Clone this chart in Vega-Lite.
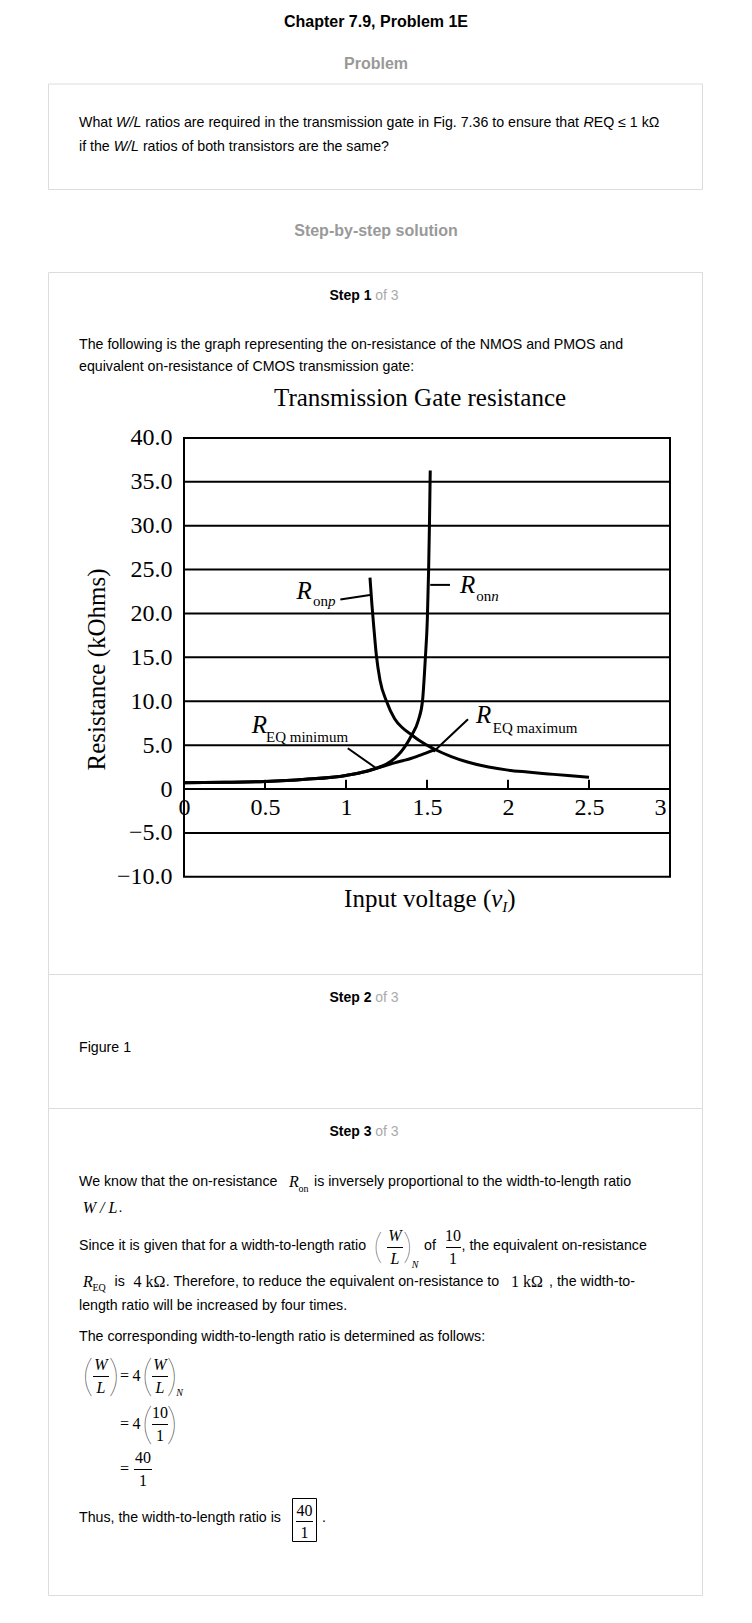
{
  "$schema": "https://vega.github.io/schema/vega-lite/v6.json",
  "width": 752,
  "height": 1623,
  "autosize": {"type": "none"},
  "padding": 0,
  "background": "#ffffff",
  "config": {"view": {"stroke": null}},
  "datasets": {
    "boxes": [
      {"x": 48.5, "x2": 702.5, "y": 84, "y2": 189.5},
      {"x": 48.5, "x2": 702.5, "y": 272.5, "y2": 974.5},
      {"x": 48.5, "x2": 702.5, "y": 974.5, "y2": 1108.5},
      {"x": 48.5, "x2": 702.5, "y": 1108.5, "y2": 1595.5}
    ],
    "ansbox": [{"x": 292.5, "x2": 316.5, "y": 1498.5, "y2": 1541.5}],
    "hdr": [{"x": 376, "y": 22, "t": "Chapter 7.9, Problem 1E"}],
    "grayhdr": [
      {"x": 376, "y": 64, "t": "Problem"},
      {"x": 376, "y": 230.5, "t": "Step-by-step solution"}
    ],
    "stepb": [
      {"x": 329.5, "y": 296, "t": "Step 1"},
      {"x": 329.5, "y": 998, "t": "Step 2"},
      {"x": 329.5, "y": 1132, "t": "Step 3"}
    ],
    "stepg": [
      {"x": 375.3, "y": 296, "t": "of 3"},
      {"x": 375.3, "y": 998, "t": "of 3"},
      {"x": 375.3, "y": 1132, "t": "of 3"}
    ],
    "body": [
      {"x": 79, "y": 123, "t": "What"},
      {"x": 145.3, "y": 123, "t": "ratios are required in the transmission gate in Fig. 7.36 to ensure that"},
      {"x": 593.7, "y": 123, "t": "EQ ≤ 1 kΩ"},
      {"x": 79, "y": 147, "t": "if the"},
      {"x": 142.9, "y": 147, "t": "ratios of both transistors are the same?"},
      {"x": 79, "y": 344.5, "t": "The following is the graph representing the on-resistance of the NMOS and PMOS and"},
      {"x": 79, "y": 367, "t": "equivalent on-resistance of CMOS transmission gate:"},
      {"x": 79, "y": 1048, "t": "Figure 1"},
      {"x": 79, "y": 1181.5, "t": "We know that the on-resistance"},
      {"x": 314, "y": 1181.5, "t": "is inversely proportional to the width-to-length ratio"},
      {"x": 118.5, "y": 1208, "t": "."},
      {"x": 79, "y": 1245.5, "t": "Since it is given that for a width-to-length ratio"},
      {"x": 424, "y": 1245.5, "t": "of"},
      {"x": 461.5, "y": 1245.5, "t": ", the equivalent on-resistance"},
      {"x": 114.6, "y": 1281.5, "t": "is"},
      {"x": 165.8, "y": 1281.5, "t": ". Therefore, to reduce the equivalent on-resistance to"},
      {"x": 549, "y": 1281.5, "t": ", the width-to-"},
      {"x": 79, "y": 1305.5, "t": "length ratio will be increased by four times."},
      {"x": 79, "y": 1336.5, "t": "The corresponding width-to-length ratio is determined as follows:"},
      {"x": 79, "y": 1518, "t": "Thus, the width-to-length ratio is"},
      {"x": 322, "y": 1518, "t": "."}
    ],
    "bodyi": [
      {"x": 116.1, "y": 123, "t": "W/L"},
      {"x": 583.4, "y": 123, "t": "R"},
      {"x": 113.7, "y": 147, "t": "W/L"}
    ],
    "mi": [
      {"x": 294, "y": 1181.5, "t": "R"},
      {"x": 100, "y": 1207.5, "t": "W / L"},
      {"x": 395, "y": 1236, "t": "W"},
      {"x": 395, "y": 1258.5, "t": "L"},
      {"x": 88, "y": 1281.5, "t": "R"},
      {"x": 101, "y": 1365, "t": "W"},
      {"x": 101, "y": 1388, "t": "L"},
      {"x": 160, "y": 1365, "t": "W"},
      {"x": 160, "y": 1388, "t": "L"}
    ],
    "mr": [
      {"x": 453, "y": 1236, "t": "10"},
      {"x": 453, "y": 1258.5, "t": "1"},
      {"x": 149.5, "y": 1281.5, "t": "4 kΩ"},
      {"x": 527, "y": 1281.5, "t": "1 kΩ"},
      {"x": 124.5, "y": 1376, "t": "="},
      {"x": 136.5, "y": 1376, "t": "4"},
      {"x": 124.5, "y": 1424, "t": "="},
      {"x": 136.5, "y": 1424, "t": "4"},
      {"x": 160, "y": 1412.5, "t": "10"},
      {"x": 160, "y": 1436, "t": "1"},
      {"x": 124.5, "y": 1469, "t": "="},
      {"x": 143, "y": 1458, "t": "40"},
      {"x": 143, "y": 1481, "t": "1"},
      {"x": 304.5, "y": 1510.5, "t": "40"},
      {"x": 304.5, "y": 1532.5, "t": "1"}
    ],
    "msub": [
      {"x": 298.5, "y": 1188.5, "t": "on"},
      {"x": 92.5, "y": 1287.5, "t": "EQ"}
    ],
    "msubi": [
      {"x": 415, "y": 1264.5, "t": "N"},
      {"x": 179.5, "y": 1393, "t": "N"}
    ],
    "parenS": [
      {"x": 378, "y": 1248, "t": "("},
      {"x": 407.5, "y": 1248, "t": ")"}
    ],
    "parenL": [
      {"x": 88, "y": 1377.5, "t": "("},
      {"x": 114, "y": 1377.5, "t": ")"},
      {"x": 147.5, "y": 1377.5, "t": "("},
      {"x": 172, "y": 1377.5, "t": ")"},
      {"x": 147.5, "y": 1425.5, "t": "("},
      {"x": 172, "y": 1425.5, "t": ")"}
    ],
    "bars": [
      {"x": 387, "x2": 403, "y": 1247.5},
      {"x": 446, "x2": 461, "y": 1247.5},
      {"x": 93, "x2": 109, "y": 1376.5},
      {"x": 152, "x2": 168, "y": 1376.5},
      {"x": 152, "x2": 168, "y": 1424.5},
      {"x": 134, "x2": 152, "y": 1469.5},
      {"x": 296, "x2": 313, "y": 1521.5}
    ],
    "frame": [{"v": 0, "v2": 3, "r": -10, "r2": 40}],
    "grid": [
      {"v": 0, "v2": 3, "r": -5}, {"v": 0, "v2": 3, "r": 0}, {"v": 0, "v2": 3, "r": 5},
      {"v": 0, "v2": 3, "r": 10}, {"v": 0, "v2": 3, "r": 15}, {"v": 0, "v2": 3, "r": 20},
      {"v": 0, "v2": 3, "r": 25}, {"v": 0, "v2": 3, "r": 30}, {"v": 0, "v2": 3, "r": 35}
    ],
    "ticks": [
      {"v": 0.5, "r": 0, "r2": 1.05}, {"v": 1, "r": 0, "r2": 1.05}, {"v": 1.5, "r": 0, "r2": 1.05},
      {"v": 2, "r": 0, "r2": 1.05}, {"v": 2.5, "r": 0, "r2": 1.05}
    ],
    "curves": [
      {"series": "Ronn", "v": 0, "r": 0.72}, {"series": "Ronn", "v": 0.25, "r": 0.76},
      {"series": "Ronn", "v": 0.5, "r": 0.85}, {"series": "Ronn", "v": 0.75, "r": 1.1},
      {"series": "Ronn", "v": 1.0, "r": 1.55}, {"series": "Ronn", "v": 1.1, "r": 1.9},
      {"series": "Ronn", "v": 1.2, "r": 2.45}, {"series": "Ronn", "v": 1.25, "r": 2.85},
      {"series": "Ronn", "v": 1.3, "r": 3.5}, {"series": "Ronn", "v": 1.34, "r": 4.25},
      {"series": "Ronn", "v": 1.37, "r": 5.0}, {"series": "Ronn", "v": 1.406, "r": 6.15},
      {"series": "Ronn", "v": 1.447, "r": 7.86}, {"series": "Ronn", "v": 1.472, "r": 10.0},
      {"series": "Ronn", "v": 1.49, "r": 15.0}, {"series": "Ronn", "v": 1.502, "r": 19.3},
      {"series": "Ronn", "v": 1.51, "r": 25.0}, {"series": "Ronn", "v": 1.515, "r": 30.0},
      {"series": "Ronn", "v": 1.52, "r": 36.3},
      {"series": "Ronp", "v": 1.148, "r": 24.1}, {"series": "Ronp", "v": 1.16, "r": 21.0},
      {"series": "Ronp", "v": 1.17, "r": 18.8}, {"series": "Ronp", "v": 1.187, "r": 15.3},
      {"series": "Ronp", "v": 1.21, "r": 12.4}, {"series": "Ronp", "v": 1.25, "r": 10.0},
      {"series": "Ronp", "v": 1.3, "r": 8.0}, {"series": "Ronp", "v": 1.35, "r": 6.95},
      {"series": "Ronp", "v": 1.406, "r": 6.15}, {"series": "Ronp", "v": 1.45, "r": 5.55},
      {"series": "Ronp", "v": 1.5, "r": 5.0}, {"series": "Ronp", "v": 1.55, "r": 4.5},
      {"series": "Ronp", "v": 1.65, "r": 3.7}, {"series": "Ronp", "v": 1.75, "r": 3.08},
      {"series": "Ronp", "v": 1.88, "r": 2.5}, {"series": "Ronp", "v": 2.0, "r": 2.15},
      {"series": "Ronp", "v": 2.12, "r": 1.93}, {"series": "Ronp", "v": 2.25, "r": 1.72},
      {"series": "Ronp", "v": 2.37, "r": 1.53}, {"series": "Ronp", "v": 2.5, "r": 1.35},
      {"series": "REQ", "v": 0, "r": 0.72}, {"series": "REQ", "v": 0.25, "r": 0.76},
      {"series": "REQ", "v": 0.5, "r": 0.85}, {"series": "REQ", "v": 0.75, "r": 1.1},
      {"series": "REQ", "v": 1.0, "r": 1.55}, {"series": "REQ", "v": 1.1, "r": 1.9},
      {"series": "REQ", "v": 1.187, "r": 2.36}, {"series": "REQ", "v": 1.25, "r": 2.7},
      {"series": "REQ", "v": 1.3, "r": 2.98}, {"series": "REQ", "v": 1.35, "r": 3.22},
      {"series": "REQ", "v": 1.4, "r": 3.47}, {"series": "REQ", "v": 1.45, "r": 3.8},
      {"series": "REQ", "v": 1.5, "r": 4.15}, {"series": "REQ", "v": 1.55, "r": 4.5}
    ],
    "leaders": [
      {"v": 0.965, "r": 21.6, "v2": 1.148, "r2": 22.1},
      {"v": 1.52, "r": 23.26, "v2": 1.642, "r2": 23.26},
      {"v": 1.011, "r": 4.64, "v2": 1.187, "r2": 2.36},
      {"v": 1.753, "r": 7.94, "v2": 1.54, "r2": 4.25}
    ],
    "ctitle": [{"v": 1.457, "r": 43.65, "t": "Transmission Gate resistance"}],
    "bigR": [
      {"v": 0.695, "r": 21.7, "t": "R"},
      {"v": 1.704, "r": 22.3, "t": "R"},
      {"v": 0.418, "r": 6.35, "t": "R"},
      {"v": 1.802, "r": 7.49, "t": "R"}
    ],
    "subR": [
      {"v": 0.796, "r": 20.85, "t": "on"},
      {"v": 1.804, "r": 21.45, "t": "on"},
      {"v": 0.506, "r": 5.39, "t": "EQ minimum"},
      {"v": 1.906, "r": 6.35, "t": "EQ maximum"}
    ],
    "subI": [
      {"v": 0.889, "r": 20.85, "t": "p"},
      {"v": 1.897, "r": 21.45, "t": "n"},
      {"v": 1.965, "r": -13.98, "t": "I"}
    ],
    "xtR": [
      {"v": 0.988, "r": -13.41, "t": "Input voltage ("},
      {"v": 1.996, "r": -13.41, "t": ")"}
    ],
    "xtI": [{"v": 1.896, "r": -13.41, "t": "v"}]
  },
  "layer": [
    {
      "encoding": {
        "x": {"field": "x", "type": "quantitative", "scale": {"domain": [0, 752], "nice": false, "zero": false}, "axis": null},
        "y": {"field": "y", "type": "quantitative", "scale": {"domain": [0, 1623], "nice": false, "zero": false, "reverse": true}, "axis": null}
      },
      "layer": [
        {"data": {"name": "boxes"}, "mark": {"type": "rect", "fill": "#ffffff", "fillOpacity": 0, "stroke": "#dcdcdc", "strokeWidth": 1},
         "encoding": {"x2": {"field": "x2"}, "y2": {"field": "y2"}}},
        {"data": {"name": "ansbox"}, "mark": {"type": "rect", "fill": "#ffffff", "fillOpacity": 0, "stroke": "#000000", "strokeWidth": 1},
         "encoding": {"x2": {"field": "x2"}, "y2": {"field": "y2"}}},
        {"data": {"name": "bars"}, "mark": {"type": "rule", "color": "#000000", "strokeWidth": 1},
         "encoding": {"x2": {"field": "x2"}}},
        {"data": {"name": "hdr"}, "mark": {"type": "text", "font": "Liberation Sans", "fontSize": 16, "fontWeight": "bold", "align": "center", "baseline": "middle", "color": "#000000"},
         "encoding": {"text": {"field": "t"}}},
        {"data": {"name": "grayhdr"}, "mark": {"type": "text", "font": "Liberation Sans", "fontSize": 16, "fontWeight": "bold", "align": "center", "baseline": "middle", "color": "#999999"},
         "encoding": {"text": {"field": "t"}}},
        {"data": {"name": "stepb"}, "mark": {"type": "text", "font": "Liberation Sans", "fontSize": 14, "fontWeight": "bold", "align": "left", "baseline": "middle", "color": "#000000"},
         "encoding": {"text": {"field": "t"}}},
        {"data": {"name": "stepg"}, "mark": {"type": "text", "font": "Liberation Sans", "fontSize": 14, "align": "left", "baseline": "middle", "color": "#aaaaaa"},
         "encoding": {"text": {"field": "t"}}},
        {"data": {"name": "body"}, "mark": {"type": "text", "font": "Liberation Sans", "fontSize": 14.2, "align": "left", "baseline": "middle", "color": "#000000"},
         "encoding": {"text": {"field": "t"}}},
        {"data": {"name": "bodyi"}, "mark": {"type": "text", "font": "Liberation Sans", "fontSize": 14.2, "fontStyle": "italic", "align": "left", "baseline": "middle", "color": "#000000"},
         "encoding": {"text": {"field": "t"}}},
        {"data": {"name": "mi"}, "mark": {"type": "text", "font": "Liberation Serif", "fontSize": 16, "fontStyle": "italic", "align": "center", "baseline": "middle", "color": "#000000"},
         "encoding": {"text": {"field": "t"}}},
        {"data": {"name": "mr"}, "mark": {"type": "text", "font": "Liberation Serif", "fontSize": 16, "align": "center", "baseline": "middle", "color": "#000000"},
         "encoding": {"text": {"field": "t"}}},
        {"data": {"name": "msub"}, "mark": {"type": "text", "font": "Liberation Serif", "fontSize": 10, "align": "left", "baseline": "middle", "color": "#000000"},
         "encoding": {"text": {"field": "t"}}},
        {"data": {"name": "msubi"}, "mark": {"type": "text", "font": "Liberation Serif", "fontSize": 10, "fontStyle": "italic", "align": "center", "baseline": "middle", "color": "#000000"},
         "encoding": {"text": {"field": "t"}}},
        {"data": {"name": "parenS"}, "mark": {"type": "text", "font": "Lato", "fontWeight": 200, "fontSize": 36, "align": "center", "baseline": "middle", "color": "#000000"},
         "encoding": {"text": {"field": "t"}}},
        {"data": {"name": "parenL"}, "mark": {"type": "text", "font": "Lato", "fontWeight": 200, "fontSize": 43, "align": "center", "baseline": "middle", "color": "#000000"},
         "encoding": {"text": {"field": "t"}}}
      ]
    },
    {
      "encoding": {
        "x": {"field": "v", "type": "quantitative",
              "scale": {"domain": [-1.135802, 3.506173], "nice": false, "zero": false},
              "axis": {"orient": "bottom", "offset": -834, "values": [0, 0.5, 1, 1.5, 2, 2.5, 3],
                       "labelExpr": "'' + datum.value", "grid": false, "ticks": false, "tickSize": 0, "domain": false,
                       "labelFont": "Liberation Serif", "labelFontSize": 24, "labelColor": "#000000",
                       "labelOffset": {"condition": {"test": "datum.value === 3", "value": -10}, "value": 0},
                       "labelPadding": 6, "labelFlush": false, "labelOverlap": false, "title": null}},
        "y": {"field": "r", "type": "quantitative",
              "scale": {"domain": [-95.0427, 89.9145], "nice": false, "zero": false},
              "axis": {"orient": "left", "offset": -184, "values": [-10, -5, 0, 5, 10, 15, 20, 25, 30, 35, 40],
                       "labelExpr": "datum.value === 0 ? '0' : format(datum.value, '.1f')",
                       "grid": false, "ticks": false, "tickSize": 0, "domain": false,
                       "labelFont": "Liberation Serif", "labelFontSize": 24, "labelColor": "#000000",
                       "labelPadding": 12, "labelFlush": false, "labelOverlap": false,
                       "title": "Resistance (kOhms)", "titleFont": "Liberation Serif", "titleFontSize": 25,
                       "titleFontWeight": "normal", "titleColor": "#000000", "titleX": -88, "titleY": 669,
                       "titleAngle": -90, "titleAlign": "center", "titleBaseline": "middle"}}
      },
      "layer": [
        {"data": {"name": "grid"}, "mark": {"type": "rule", "color": "#000000", "strokeWidth": 2},
         "encoding": {"x2": {"field": "v2"}}},
        {"data": {"name": "frame"}, "mark": {"type": "rect", "fill": "#ffffff", "fillOpacity": 0, "stroke": "#000000", "strokeWidth": 2},
         "encoding": {"x2": {"field": "v2"}, "y2": {"field": "r2"}}},
        {"data": {"name": "ticks"}, "mark": {"type": "rule", "color": "#000000", "strokeWidth": 2},
         "encoding": {"y2": {"field": "r2"}}},
        {"data": {"name": "curves"}, "mark": {"type": "line", "color": "#000000", "strokeWidth": 3, "strokeJoin": "round", "interpolate": "monotone"},
         "encoding": {"detail": {"field": "series"}}},
        {"data": {"name": "leaders"}, "mark": {"type": "rule", "color": "#000000", "strokeWidth": 2},
         "encoding": {"x2": {"field": "v2"}, "y2": {"field": "r2"}}},
        {"data": {"name": "ctitle"}, "mark": {"type": "text", "font": "Liberation Serif", "fontSize": 25, "align": "center", "baseline": "alphabetic", "color": "#000000"},
         "encoding": {"text": {"field": "t"}}},
        {"data": {"name": "bigR"}, "mark": {"type": "text", "font": "Liberation Serif", "fontSize": 25, "fontStyle": "italic", "align": "left", "baseline": "alphabetic", "color": "#000000"},
         "encoding": {"text": {"field": "t"}}},
        {"data": {"name": "subR"}, "mark": {"type": "text", "font": "Liberation Serif", "fontSize": 15, "align": "left", "baseline": "alphabetic", "color": "#000000"},
         "encoding": {"text": {"field": "t"}}},
        {"data": {"name": "subI"}, "mark": {"type": "text", "font": "Liberation Serif", "fontSize": 15, "fontStyle": "italic", "align": "left", "baseline": "alphabetic", "color": "#000000"},
         "encoding": {"text": {"field": "t"}}},
        {"data": {"name": "xtR"}, "mark": {"type": "text", "font": "Liberation Serif", "fontSize": 25, "align": "left", "baseline": "alphabetic", "color": "#000000"},
         "encoding": {"text": {"field": "t"}}},
        {"data": {"name": "xtI"}, "mark": {"type": "text", "font": "Liberation Serif", "fontSize": 25, "fontStyle": "italic", "align": "left", "baseline": "alphabetic", "color": "#000000"},
         "encoding": {"text": {"field": "t"}}}
      ]
    }
  ],
  "resolve": {
    "scale": {"x": "independent", "y": "independent"},
    "axis": {"x": "independent", "y": "independent"}
  }
}
